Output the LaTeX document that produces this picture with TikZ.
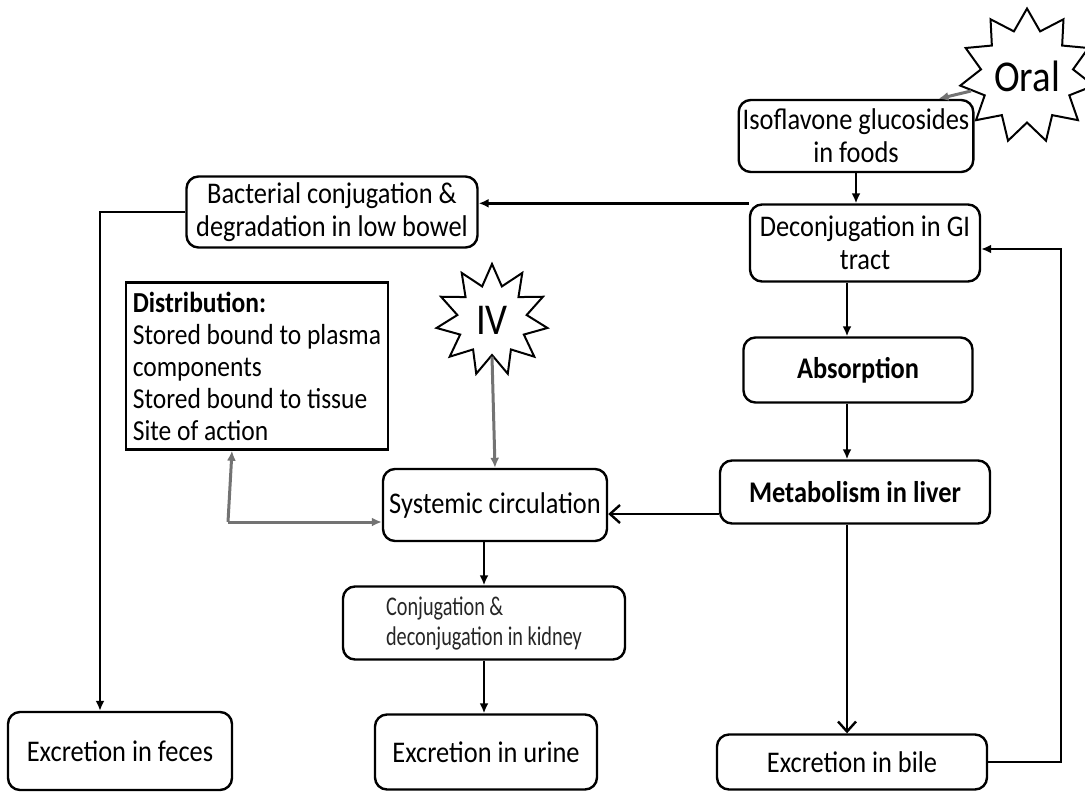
\documentclass[tikz,border=0pt]{standalone}
\usepackage{fontspec}
\setmainfont[FakeStretch=0.88]{Carlito}
\newfontfamily\thinfont[FakeStretch=0.75]{Carlito}
\usepackage{tikz}
\usetikzlibrary{shapes.geometric, arrows.meta, positioning, calc}

\begin{document}
\begin{tikzpicture}[x=0.5pt, y=-0.5pt,
    box/.style={rectangle, rounded corners=6pt, draw=black, line width=1.2pt, align=center, inner sep=2pt, font=\fontsize{15}{16.5}\selectfont},
    heavy/.style={box, font=\fontsize{15}{16.5}\selectfont\bfseries},
    listbox/.style={rectangle, draw=black, line width=1.2pt, align=left, inner sep=3pt, font=\fontsize{14.5}{16}\selectfont},
    burst/.style={star, star points=11, star point ratio=1.6, draw=black, line width=1pt, inner sep=0pt, font=\fontsize{22}{24}\selectfont},
    arrow/.style={-{Latex[length=5pt,width=4.5pt]}, line width=1.2pt},
    openarrow/.style={-{Straight Barb[length=5pt,width=9pt]}, line width=1.2pt},
    feed/.style={-{Latex[length=5pt,width=4.5pt]}, draw=black!55, line width=1.5pt}
]
\useasboundingbox (0,0) rectangle (1085,793);

% Intake
\node[box, minimum width=113.5pt, minimum height=36pt] (food) at (856,136) {Isoflavone glucosides\\in foods};
\node[burst, star point ratio=1.45, minimum size=60pt] (oral) at (1027,76) {Oral};
\node[box, minimum width=115pt, minimum height=38.5pt] (decon) at (865,243) {Deconjugation in GI\\tract};
\node[box, minimum width=145.5pt, minimum height=35.5pt] (bact) at (332,212) {Bacterial conjugation \&\\degradation in low bowel};

% Distribution
\node[listbox, minimum width=131pt, minimum height=83.5pt] (dist) at (257,366) {\textbf{Distribution:}\\Stored bound to plasma\\components\\Stored bound to tissue\\Site of action};
\node[burst, minimum size=56pt] (iv) at (492,320) {IV};
\node[box, minimum width=112pt, minimum height=36pt] (syst) at (495,505) {Systemic circulation};
\node[heavy, minimum width=114.5pt, minimum height=32.5pt] (absorb) at (858,370) {Absorption};
\node[heavy, minimum width=135pt, minimum height=31.5pt] (liver) at (855,492) {Metabolism in liver};
\node[box, minimum width=141pt, minimum height=36.5pt, align=left, text=black!85, font={\fontsize{13.5}{15}\thinfont}] (kidney) at (484,623) {Conjugation \&\\deconjugation in kidney};

% Excretion
\node[box, minimum width=112pt, minimum height=39pt] (feces) at (120,751) {Excretion in feces};
\node[box, minimum width=111pt, minimum height=37.5pt] (urine) at (486,752) {Excretion in urine};
\node[box, minimum width=135pt, minimum height=27.5pt] (bile) at (852,762) {Excretion in bile};

% Connectors
\draw[feed] (oral.195) -- ([xshift=-18pt]food.north east);
\draw[arrow] (food.south) -- (food.south |- decon.north);
\draw[arrow] (decon.north west) -- (decon.north west -| bact.east);
\draw[arrow] (bact.west) -| ([xshift=-10pt]feces.north);
\draw[arrow] ([xshift=-9pt]decon.south) -- ([xshift=-9pt]decon.south |- absorb.north);
\draw[arrow] ([xshift=-5.5pt]absorb.south) -- ([xshift=-5.5pt]absorb.south |- liver.north);
\draw[openarrow] ([yshift=-11pt]liver.west) -- ([yshift=-11pt]liver.west -| syst.east);
\draw[openarrow] ([xshift=-4pt]liver.south) -- ([xshift=-4pt]liver.south |- bile.north);
\draw[arrow] (bile.east) -- ++(73,0) |- ([yshift=-3pt]decon.east);
\draw[feed] (iv.south) -- (syst.north);
\coordinate (split) at (228,522);
\draw[feed] (split) -- ([xshift=-12.5pt]dist.south);
\draw[feed] (split) -- (split -| syst.west);
\draw[arrow] (kidney.north |- syst.south) -- (kidney.north);
\draw[arrow] (kidney.south) -- (kidney.south |- urine.north);

\end{tikzpicture}
\end{document}
